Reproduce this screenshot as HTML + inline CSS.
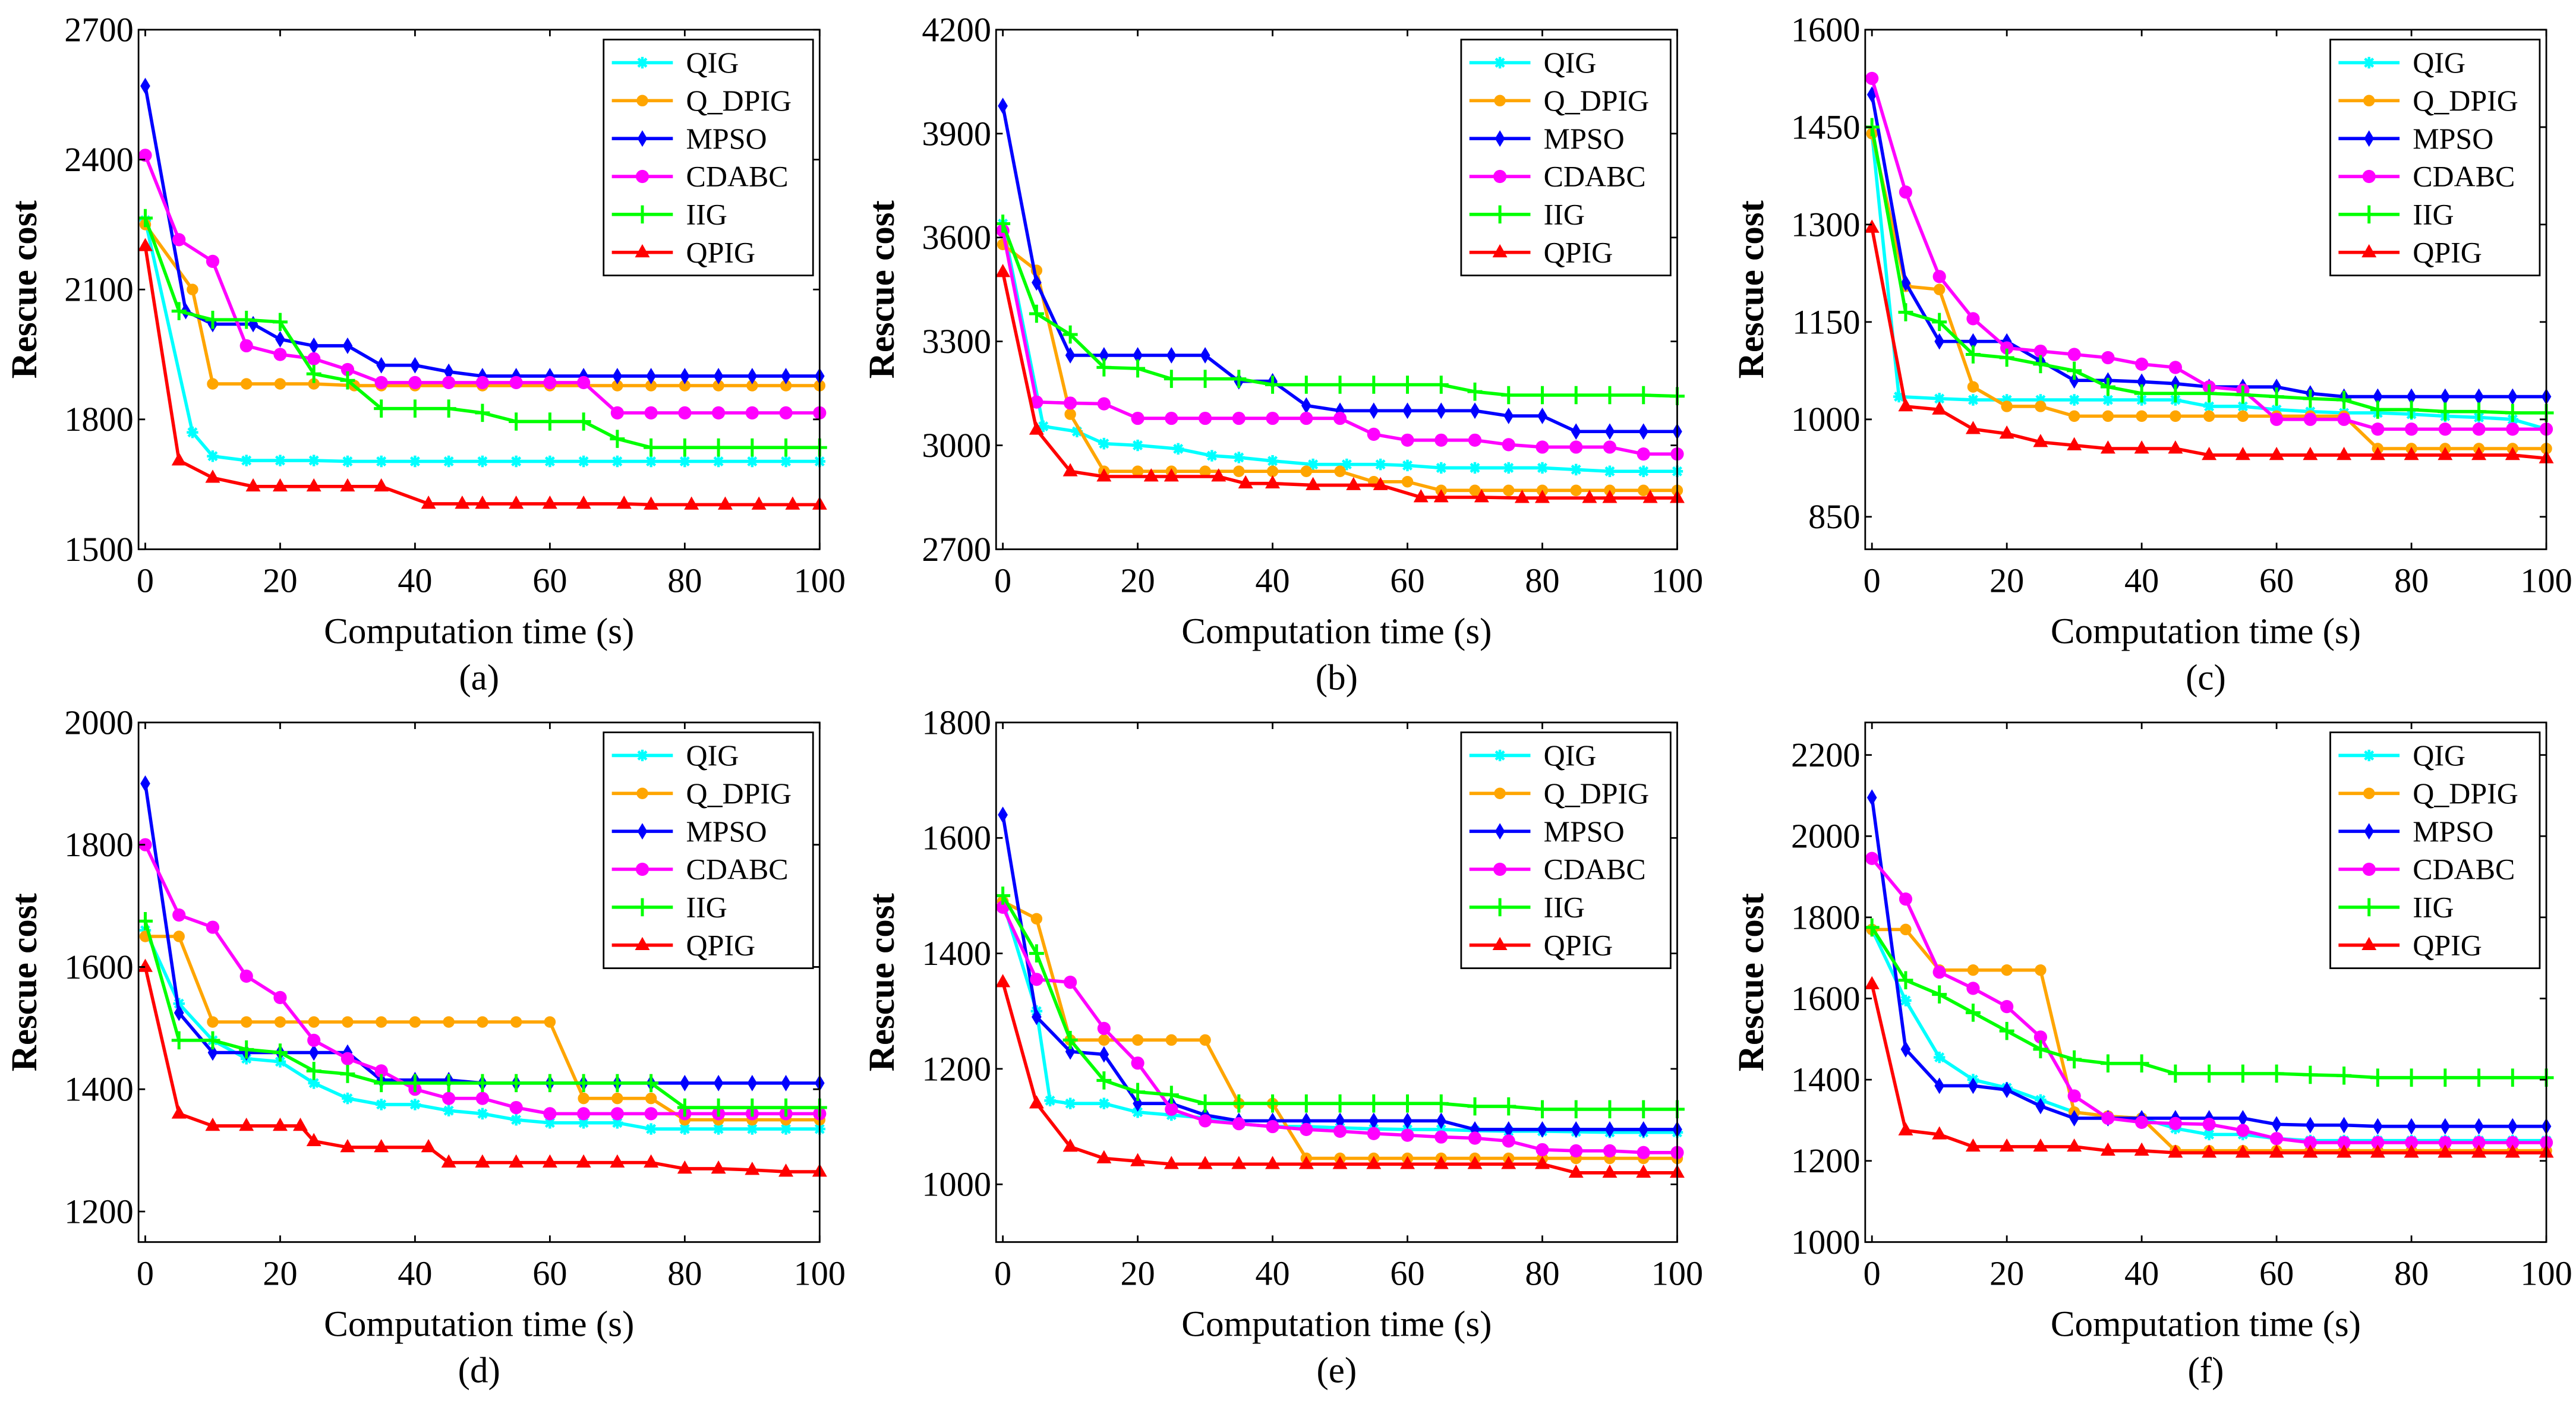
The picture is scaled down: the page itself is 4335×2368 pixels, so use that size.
<!DOCTYPE html>
<html><head><meta charset="utf-8">
<style>
html,body{margin:0;padding:0;background:#fff;}
svg{display:block;font-family:"Liberation Serif","Times New Roman",serif;}
svg text{font-family:"Liberation Serif","Times New Roman",serif;fill:#000;}
</style></head>
<body>
<svg id="fig" width="4335" height="2368" viewBox="0 0 1562 853" preserveAspectRatio="none" font-family="Liberation Serif, serif" xmlns="http://www.w3.org/2000/svg"></svg>
<script>
const names = ["QIG","Q_DPIG","MPSO","CDABC","IIG","QPIG"];
const colors = ["#00ffff","#ffa500","#0000ff","#ff00ff","#00ff00","#ff0000"];
const xTicks = [0,20,40,60,80,100];

// Panel (a)
const aTicks = [1500,1800,2100,2400,2700];
const aQIG = [[0,2260],[7,1770],[10,1715],[15,1705],[20,1705],[25,1705],[30,1703],[35,1703],[40,1703],[45,1703],[50,1703],[55,1703],[60,1703],[65,1703],[70,1703],[75,1703],[80,1703],[85,1703],[90,1703],[95,1703],[100,1703]];
const aQDPIG = [[0,2250],[7,2100],[10,1882],[15,1882],[20,1882],[25,1882],[31,1878],[35,1878],[40,1878],[50,1878],[60,1878],[70,1878],[75,1878],[80,1878],[85,1878],[90,1878],[95,1878],[100,1878]];
const aMPSO = [[0,2570],[6,2050],[10,2020],[16,2020],[20,1985],[25,1970],[30,1970],[35,1925],[40,1925],[45,1910],[50,1900],[55,1900],[60,1900],[65,1900],[70,1900],[75,1900],[80,1900],[85,1900],[90,1900],[95,1900],[100,1900]];
const aCDABC = [[0,2410],[5,2215],[10,2165],[15,1970],[20,1950],[25,1940],[30,1915],[35,1885],[40,1885],[45,1885],[50,1885],[55,1885],[60,1885],[65,1885],[70,1815],[75,1815],[80,1815],[85,1815],[90,1815],[95,1815],[100,1815]];
const aIIG = [[0,2265],[5,2050],[10,2030],[15,2030],[20,2025],[25,1905],[30,1890],[35,1825],[40,1825],[45,1825],[50,1815],[55,1795],[60,1795],[65,1795],[70,1755],[75,1735],[80,1735],[85,1735],[90,1735],[95,1735],[100,1735]];
const aQPIG = [[0,2200],[5,1705],[10,1665],[16,1645],[20,1645],[25,1645],[30,1645],[35,1645],[42,1605],[47,1605],[50,1605],[55,1605],[60,1605],[65,1605],[71,1605],[75,1603],[81,1603],[86,1603],[91,1603],[96,1603],[100,1603]];

// Panel (b)
const bTicks = [2700,3000,3300,3600,3900,4200];
const bQIG = [[0,3640],[6,3055],[11,3040],[15,3005],[20,3000],[26,2990],[31,2970],[35,2965],[40,2955],[46,2945],[51,2945],[56,2945],[60,2942],[65,2935],[70,2935],[75,2935],[80,2935],[85,2930],[90,2925],[95,2925],[100,2925]];
const bQDPIG = [[0,3580],[5,3505],[10,3090],[15,2925],[20,2925],[25,2925],[30,2925],[35,2925],[40,2925],[45,2925],[50,2925],[55,2895],[60,2895],[65,2870],[70,2870],[75,2870],[80,2870],[85,2870],[90,2870],[95,2870],[100,2870]];
const bMPSO = [[0,3980],[5,3470],[10,3260],[15,3260],[20,3260],[25,3260],[30,3260],[35,3185],[40,3185],[45,3115],[50,3100],[55,3100],[60,3100],[65,3100],[70,3100],[75,3085],[80,3085],[85,3040],[90,3040],[95,3040],[100,3040]];
const bCDABC = [[0,3620],[5,3125],[10,3122],[15,3120],[20,3078],[25,3078],[30,3078],[35,3078],[40,3078],[45,3078],[50,3078],[55,3032],[60,3015],[65,3015],[70,3015],[75,3002],[80,2995],[85,2995],[90,2995],[95,2975],[100,2975]];
const bIIG = [[0,3640],[5,3380],[10,3320],[15,3225],[20,3222],[25,3192],[30,3192],[35,3192],[40,3175],[45,3175],[50,3175],[55,3175],[60,3175],[65,3175],[70,3155],[75,3145],[80,3145],[85,3145],[90,3145],[95,3145],[100,3142]];
const bQPIG = [[0,3500],[5,3045],[10,2925],[15,2910],[22,2910],[25,2910],[32,2910],[36,2890],[40,2890],[46,2885],[52,2885],[56,2885],[62,2850],[65,2850],[71,2850],[77,2848],[80,2848],[87,2848],[90,2848],[96,2848],[100,2848]];

// Panel (c)
const cTicks = [850,1000,1150,1300,1450,1600];
const cQIG = [[0,1440],[4,1035],[10,1032],[15,1030],[20,1030],[25,1030],[30,1030],[35,1030],[40,1030],[45,1030],[50,1020],[55,1020],[60,1015],[65,1012],[70,1010],[75,1010],[80,1008],[85,1005],[90,1003],[95,1000],[100,985]];
const cQDPIG = [[0,1440],[5,1205],[10,1200],[15,1050],[20,1020],[25,1020],[30,1005],[35,1005],[40,1005],[45,1005],[50,1005],[55,1005],[60,1005],[65,1005],[70,1005],[75,955],[80,955],[85,955],[90,955],[95,955],[100,955]];
const cMPSO = [[0,1500],[5,1210],[10,1120],[15,1120],[20,1120],[25,1090],[30,1060],[35,1060],[40,1058],[45,1055],[50,1050],[55,1050],[60,1050],[65,1040],[70,1035],[75,1035],[80,1035],[85,1035],[90,1035],[95,1035],[100,1035]];
const cCDABC = [[0,1525],[5,1350],[10,1220],[15,1155],[20,1110],[25,1105],[30,1100],[35,1095],[40,1085],[45,1080],[50,1050],[55,1045],[60,1000],[65,1000],[70,1000],[75,985],[80,985],[85,985],[90,985],[95,985],[100,985]];
const cIIG = [[0,1450],[5,1165],[10,1150],[15,1100],[20,1095],[25,1085],[30,1075],[35,1050],[40,1040],[45,1040],[50,1040],[55,1038],[60,1035],[65,1032],[70,1030],[75,1015],[80,1015],[85,1012],[90,1012],[95,1010],[100,1010]];
const cQPIG = [[0,1295],[5,1020],[10,1015],[15,985],[20,978],[25,965],[30,960],[35,955],[40,955],[45,955],[50,945],[55,945],[60,945],[65,945],[70,945],[75,945],[80,945],[85,945],[90,945],[95,945],[100,940]];

// Panel (d)
const dTicks = [1200,1400,1600,1800,2000];
const dQIG = [[0,1660],[5,1540],[10,1480],[15,1450],[20,1445],[25,1410],[30,1385],[35,1375],[40,1375],[45,1365],[50,1360],[55,1350],[60,1345],[65,1345],[70,1345],[75,1335],[80,1335],[85,1335],[90,1335],[95,1335],[100,1335]];
const dQDPIG = [[0,1650],[5,1650],[10,1510],[15,1510],[20,1510],[25,1510],[30,1510],[35,1510],[40,1510],[45,1510],[50,1510],[55,1510],[60,1510],[65,1385],[70,1385],[75,1385],[80,1350],[85,1350],[90,1350],[95,1350],[100,1350]];
const dMPSO = [[0,1900],[5,1525],[10,1460],[15,1460],[20,1460],[25,1460],[30,1460],[35,1415],[40,1415],[45,1415],[50,1410],[55,1410],[60,1410],[65,1410],[70,1410],[75,1410],[80,1410],[85,1410],[90,1410],[95,1410],[100,1410]];
const dCDABC = [[0,1800],[5,1685],[10,1665],[15,1585],[20,1550],[25,1480],[30,1450],[35,1430],[40,1400],[45,1385],[50,1385],[55,1370],[60,1360],[65,1360],[70,1360],[75,1360],[80,1360],[85,1360],[90,1360],[95,1360],[100,1360]];
const dIIG = [[0,1675],[5,1480],[10,1480],[15,1465],[20,1460],[25,1430],[30,1425],[35,1410],[40,1410],[45,1410],[50,1410],[55,1410],[60,1410],[65,1410],[70,1410],[75,1410],[80,1370],[85,1370],[90,1370],[95,1370],[100,1370]];
const dQPIG = [[0,1600],[5,1360],[10,1340],[15,1340],[20,1340],[23,1340],[25,1315],[30,1305],[35,1305],[42,1305],[45,1280],[50,1280],[55,1280],[60,1280],[65,1280],[70,1280],[75,1280],[80,1270],[85,1270],[90,1268],[95,1265],[100,1265]];

// Panel (e)
const eTicks = [1000,1200,1400,1600,1800];
const eQIG = [[0,1490],[5,1300],[7,1145],[10,1140],[15,1140],[20,1125],[25,1120],[30,1115],[35,1105],[40,1100],[45,1100],[50,1098],[55,1096],[60,1095],[65,1095],[70,1093],[75,1092],[80,1092],[85,1091],[90,1090],[95,1090],[100,1090]];
const eQDPIG = [[0,1490],[5,1460],[10,1250],[15,1250],[20,1250],[25,1250],[30,1250],[35,1140],[40,1140],[45,1045],[50,1045],[55,1045],[60,1045],[65,1045],[70,1045],[75,1045],[80,1045],[85,1045],[90,1045],[95,1045],[100,1045]];
const eMPSO = [[0,1640],[5,1290],[10,1230],[15,1225],[20,1140],[25,1140],[30,1120],[35,1110],[40,1110],[45,1110],[50,1110],[55,1110],[60,1110],[65,1110],[70,1095],[75,1095],[80,1095],[85,1095],[90,1095],[95,1095],[100,1095]];
const eCDABC = [[0,1480],[5,1355],[10,1350],[15,1270],[20,1210],[25,1130],[30,1110],[35,1105],[40,1100],[45,1095],[50,1092],[55,1088],[60,1085],[65,1082],[70,1080],[75,1075],[80,1060],[85,1058],[90,1058],[95,1055],[100,1055]];
const eIIG = [[0,1500],[5,1400],[10,1250],[15,1180],[20,1160],[25,1155],[30,1140],[35,1140],[40,1140],[45,1140],[50,1140],[55,1140],[60,1140],[65,1140],[70,1135],[75,1135],[80,1130],[85,1130],[90,1130],[95,1130],[100,1130]];
const eQPIG = [[0,1350],[5,1140],[10,1065],[15,1045],[20,1040],[25,1035],[30,1035],[35,1035],[40,1035],[45,1035],[50,1035],[55,1035],[60,1035],[65,1035],[70,1035],[75,1035],[80,1035],[85,1020],[90,1020],[95,1020],[100,1020]];

// Panel (f)
const fTicks = [1000,1200,1400,1600,1800,2000,2200];
const fQIG = [[0,1770],[5,1595],[10,1455],[15,1400],[20,1380],[25,1350],[30,1320],[35,1310],[40,1305],[45,1280],[50,1265],[55,1265],[60,1255],[65,1250],[70,1250],[75,1250],[80,1250],[85,1250],[90,1250],[95,1250],[100,1250]];
const fQDPIG = [[0,1770],[5,1770],[10,1670],[15,1670],[20,1670],[25,1670],[30,1320],[35,1310],[40,1305],[45,1225],[50,1225],[55,1225],[60,1225],[65,1225],[70,1225],[75,1225],[80,1225],[85,1225],[90,1225],[95,1225],[100,1225]];
const fMPSO = [[0,2095],[5,1475],[10,1385],[15,1385],[20,1375],[25,1335],[30,1305],[35,1305],[40,1305],[45,1305],[50,1305],[55,1305],[60,1290],[65,1288],[70,1288],[75,1285],[80,1285],[85,1285],[90,1285],[95,1285],[100,1285]];
const fCDABC = [[0,1945],[5,1845],[10,1665],[15,1625],[20,1580],[25,1505],[30,1360],[35,1305],[40,1295],[45,1292],[50,1290],[55,1275],[60,1255],[65,1245],[70,1245],[75,1245],[80,1245],[85,1245],[90,1245],[95,1245],[100,1245]];
const fIIG = [[0,1775],[5,1645],[10,1610],[15,1565],[20,1520],[25,1475],[30,1450],[35,1440],[40,1440],[45,1415],[50,1415],[55,1415],[60,1415],[65,1412],[70,1410],[75,1405],[80,1405],[85,1405],[90,1405],[95,1405],[100,1405]];
const fQPIG = [[0,1635],[5,1275],[10,1265],[15,1235],[20,1235],[25,1235],[30,1235],[35,1225],[40,1225],[45,1220],[50,1220],[55,1220],[60,1220],[65,1220],[70,1220],[75,1220],[80,1220],[85,1220],[90,1220],[95,1220],[100,1220]];

const panels = [
 {id:"a", x0:84, y0:18, ymin:1500, ymax:2700, ticks:aTicks, series:[aQIG,aQDPIG,aMPSO,aCDABC,aIIG,aQPIG]},
 {id:"b", x0:604, y0:18, ymin:2700, ymax:4200, ticks:bTicks, series:[bQIG,bQDPIG,bMPSO,bCDABC,bIIG,bQPIG]},
 {id:"c", x0:1131, y0:18, ymin:800, ymax:1600, ticks:cTicks, series:[cQIG,cQDPIG,cMPSO,cCDABC,cIIG,cQPIG]},
 {id:"d", x0:84, y0:438, ymin:1150, ymax:2000, ticks:dTicks, series:[dQIG,dQDPIG,dMPSO,dCDABC,dIIG,dQPIG]},
 {id:"e", x0:604, y0:438, ymin:900, ymax:1800, ticks:eTicks, series:[eQIG,eQDPIG,eMPSO,eCDABC,eIIG,eQPIG]},
 {id:"f", x0:1131, y0:438, ymin:1000, ymax:2280, ticks:fTicks, series:[fQIG,fQDPIG,fMPSO,fCDABC,fIIG,fQPIG]}
];
const W = 413, H = 315, XMIN = -1, XMAX = 100;
const NS = "http://www.w3.org/2000/svg";
const FONT = "Liberation Serif, Times New Roman, serif";
const svg = document.getElementById("fig");
function el(tag, attrs, parent){const e=document.createElementNS(NS,tag);for(const k in attrs)e.setAttribute(k,attrs[k]);if(tag==="text")e.setAttribute("font-family",FONT);(parent||svg).appendChild(e);return e;}

function marker(g, kind, cx, cy, color){
  let m;
  if(kind===0){
    m = el("path",{d:`M${cx-3.5},${cy}H${cx+3.5}M${cx},${cy-3.5}V${cy+3.5}M${cx-2.5},${cy-2.5}L${cx+2.5},${cy+2.5}M${cx-2.5},${cy+2.5}L${cx+2.5},${cy-2.5}`,stroke:color,"stroke-width":1.6,fill:"none"},g);
  } else if(kind===1){
    m = el("circle",{cx:cx,cy:cy,r:3,fill:color,stroke:color,"stroke-width":1},g);
  } else if(kind===2){
    m = el("path",{d:`M${cx},${cy-5}L${cx+3},${cy}L${cx},${cy+5}L${cx-3},${cy}Z`,fill:color},g);
  } else if(kind===3){
    m = el("circle",{cx:cx,cy:cy,r:4,fill:color},g);
  } else if(kind===4){
    m = el("path",{d:`M${cx-4.5},${cy}H${cx+4.5}M${cx},${cy-5.5}V${cy+5.5}`,stroke:color,"stroke-width":1.8,fill:"none"},g);
  } else {
    m = el("path",{d:`M${cx},${cy-5}L${cx+4.5},${cy+3}L${cx-4.5},${cy+3}Z`,fill:color},g);
  }
  
  
}

panels.forEach(p=>{
  const g = el("g",{});
  
  
  const sx = v => p.x0 + (v - XMIN)/(XMAX - XMIN)*W;
  const sy = v => p.y0 + H - (v - p.ymin)/(p.ymax - p.ymin)*H;
  p.series.forEach((s,i)=>{
    const pl = el("polyline",{points:s.map(d=>sx(d[0])+","+sy(d[1])).join(" "),fill:"none",stroke:colors[i],"stroke-width":2,"stroke-linejoin":"round"},g);
    
    
    s.forEach(d=>marker(g,i,sx(d[0]),sy(d[1]),colors[i]));
  });
  const fr = el("rect",{x:p.x0,y:p.y0,width:W,height:H,fill:"none",stroke:"#000","stroke-width":1},g);
  
  
  xTicks.forEach(t=>{
    const x = sx(t);
    el("path",{d:`M${x},${p.y0+H}v-4M${x},${p.y0}v4`,stroke:"#000","stroke-width":1},g);
    const tl = el("text",{x:x,y:p.y0+H+26,"text-anchor":"middle","font-size":21},g);
    tl.textContent = t;
    
    
  });
  p.ticks.forEach(t=>{
    const y = sy(t);
    el("path",{d:`M${p.x0},${y}h4M${p.x0+W},${y}h-4`,stroke:"#000","stroke-width":1},g);
    const tl = el("text",{x:p.x0-3,y:y+7,"text-anchor":"end","font-size":21},g);
    tl.textContent = t;
    
    
  });
  const xl = el("text",{x:p.x0+W/2,y:p.y0+H+57,"text-anchor":"middle","font-size":22},g);
  xl.textContent = "Computation time (s)";
  
  
  const yl = el("text",{x:0,y:0,"text-anchor":"middle","font-size":22,"font-weight":"bold",transform:`translate(${p.x0-62},${p.y0+H/2}) rotate(-90)`},g);
  yl.textContent = "Rescue cost";
  
  
  const cap = el("text",{x:p.x0+W/2,y:p.y0+H+85,"text-anchor":"middle","font-size":22},g);
  cap.textContent = "("+p.id+")";
  
  
  const lg = el("g",{},g);
  
  
  const lx = p.x0+W-131, ly = p.y0+6;
  el("rect",{x:lx,y:ly,width:127,height:143,fill:"#fff",stroke:"#000","stroke-width":1},lg);
  names.forEach((n,i)=>{
    const yy = ly+14+i*23;
    const ln = el("line",{x1:lx+5,y1:yy,x2:lx+42,y2:yy,stroke:colors[i],"stroke-width":2},lg);
    
    
    marker(lg,i,lx+23.5,yy,colors[i]);
    const tx = el("text",{x:lx+50,y:yy+6,"font-size":18},lg);
    tx.textContent = n;
    
    
  });
});
</script>
</body></html>
